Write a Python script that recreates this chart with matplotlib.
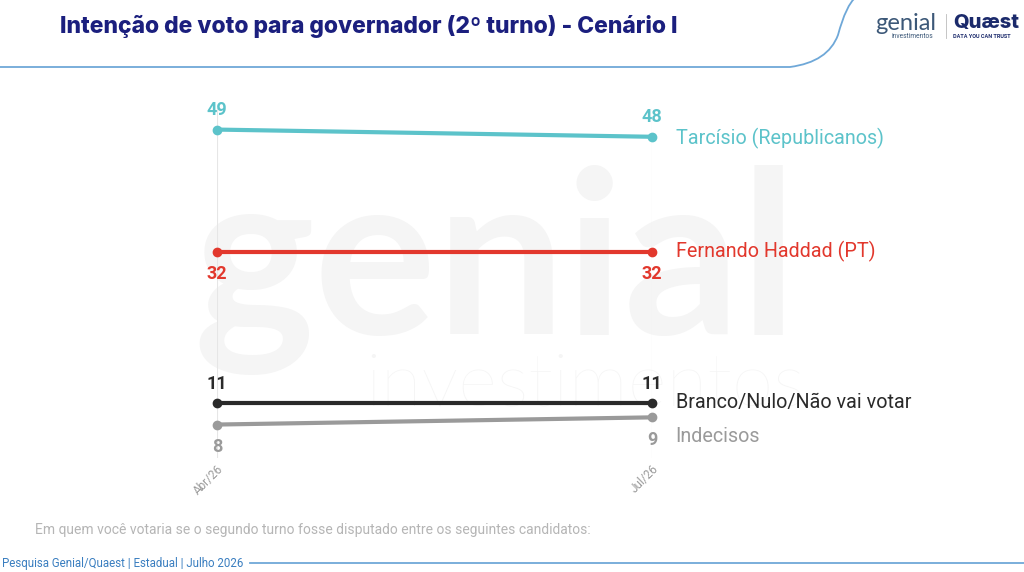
import matplotlib.pyplot as plt
from matplotlib.path import Path
from matplotlib.patches import PathPatch

# dados
periodos = ['Abr/26', 'Jul/26']
tarcisio = [49, 48]
haddad = [32, 32]
branco = [11, 11]
indecisos = [8, 9]

nomes = ['Tarcísio (Republicanos)', 'Fernando Haddad (PT)',
         'Branco/Nulo/Não vai votar', 'Indecisos']
cores = ['#5CC3CA', '#E2382D', '#2A2A2A', '#9A9A9A']
series = [tarcisio, haddad, branco, indecisos]
# posicao do rotulo numerico: acima (1) ou abaixo (-1)
lado = [1, -1, 1, -1]

plt.rcParams['font.family'] = ['Roboto', 'DejaVu Sans']

fig = plt.figure(figsize=(10.24, 5.72), dpi=100)
fig.patch.set_facecolor('white')

W, H = 1024, 572
def fx(px):
    return px / W
def fy(py):
    return 1 - py / H

# marca d'agua
fig.text(fx(495), fy(270), 'genial', fontsize=165, color='#F5F5F5',
         ha='center', va='center', family='Lato', fontweight='bold', zorder=0)
fig.text(fx(585), fy(385), 'investimentos', fontsize=54, color='#F5F5F5',
         ha='center', va='center', family='Lato', fontweight='light', zorder=0)

ax = fig.add_axes([fx(217), fy(458), fx(652) - fx(217), fy(108) - fy(458)])
ax.set_zorder(2)
ax.set_facecolor('none')
x = [0, 1]
for s, nome, cor, l in zip(series, nomes, cores, lado):
    ax.plot(x, s, color=cor, lw=3, marker='o', ms=6, clip_on=False, zorder=3)
    for xi, v in zip(x, s):
        dy = 14 if l > 0 else -16
        ax.annotate(str(v), (xi, v), xytext=(0, dy), textcoords='offset points',
                    ha='center', va='center', fontsize=13, fontweight='bold',
                    color=cor)

# rotulos a direita
lab_y = [tarcisio[1] - 0.2, haddad[1], branco[1], indecisos[1] - 2.6]
for nome, cor, yv in zip(nomes, cores, lab_y):
    ax.annotate(nome, (1, yv), xytext=(17, 0), textcoords='offset points',
                ha='left', va='center', fontsize=14.2, color=cor)

ax.set_xlim(0, 1)
ax.set_ylim(3.35, 52)
ax.set_xticks(x)
ax.set_xticklabels(periodos, rotation=45, ha='right', rotation_mode='anchor',
                   fontsize=8.5, color='#9A9A9A')
ax.tick_params(axis='x', length=0, pad=3)
ax.set_yticks([])
ax.grid(axis='x', color='#E6E6E6', lw=0.8)
for sp in ax.spines.values():
    sp.set_visible(False)

# titulo
fig.text(fx(60), fy(26), 'Intenção de voto para governador (2º turno) - Cenário I',
         fontsize=16.5, fontweight='heavy', color='#1B1F7E', ha='left',
         va='center', family='Inter')

# linha do cabecalho
verts = [(fx(0), fy(67)), (fx(790), fy(67)), (fx(828), fy(62)),
         (fx(838), fy(35)), (fx(846), fy(5)), (fx(856), fy(-3))]
codes = [Path.MOVETO, Path.LINETO, Path.CURVE3, Path.CURVE3, Path.CURVE3, Path.CURVE3]
fig.add_artist(PathPatch(Path(verts, codes), fc='none', ec='#6FA8D8', lw=1.3,
                         transform=fig.transFigure))

# logos
fig.text(fx(875), fy(24), 'genial', fontsize=17, color='#3C5878', ha='left',
         va='center', family='Lato')
fig.text(fx(892), fy(37), 'investimentos', fontsize=4.8, color='#3C5878',
         ha='left', va='center')
fig.add_artist(plt.Line2D([fx(946), fx(946)], [fy(14), fy(38)], color='#BBBBBB',
                          lw=0.6, transform=fig.transFigure))
fig.text(fx(953), fy(23), 'Quæst', fontsize=14.5, color='#1B2A6B', ha='left',
         va='center', fontweight='heavy', family='Inter')
fig.text(fx(953), fy(36), 'DATA YOU CAN TRUST', fontsize=4, color='#1B2A6B',
         ha='left', va='center', fontweight='bold')

# rodape
fig.text(fx(35), fy(530), 'Em quem você votaria se o segundo turno fosse disputado entre os seguintes candidatos:',
         fontsize=10, color='#B5B5B5', ha='left', va='center')
fig.text(fx(2), fy(563), 'Pesquisa Genial/Quaest | Estadual | Julho 2026',
         fontsize=8.3, color='#3A7EC0', ha='left', va='center')
fig.add_artist(plt.Line2D([fx(250), fx(1024)], [fy(563), fy(563)],
                          color='#6FA8D8', lw=1.3, transform=fig.transFigure))

fig.savefig('out.png', dpi=100)
